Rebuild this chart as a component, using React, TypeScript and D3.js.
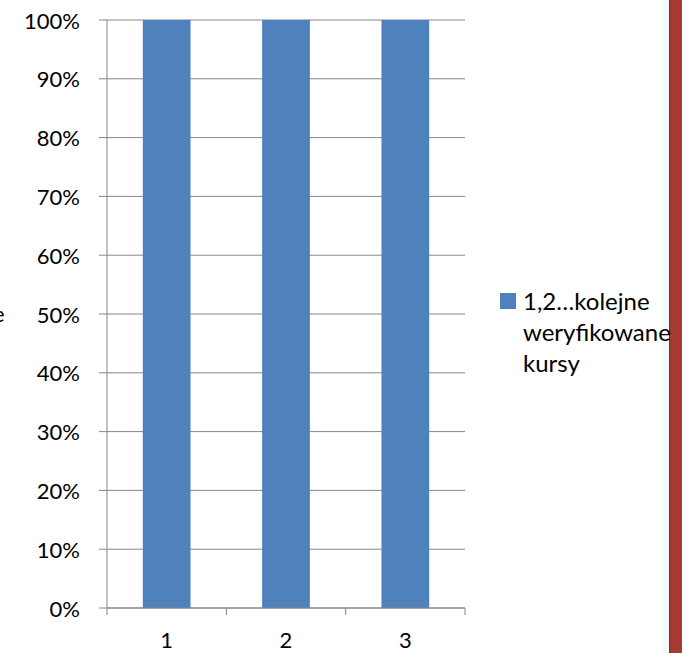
import React from "react";
import * as d3 from "d3";

const categories = ["1", "2", "3"];
const values = [1, 1, 1];
const yTicks = [0, 0.1, 0.2, 0.3, 0.4, 0.5, 0.6, 0.7, 0.8, 0.9, 1];
const legendLines = ["1,2…kolejne", "weryfikowane", "kursy"];

const W = 682;
const H = 653;
const plot = { left: 107, right: 465, top: 20, bottom: 608 };
const FONT = "Lato, 'Open Sans', sans-serif";

export default function App() {
  const x = d3
    .scaleBand<string>()
    .domain(categories)
    .range([plot.left, plot.right])
    .paddingInner(0.6)
    .paddingOuter(0.3);
  const xb = d3.scaleBand<string>().domain(categories).range([plot.left, plot.right]);
  const y = d3.scaleLinear().domain([0, 1]).range([plot.bottom, plot.top]);
  const fmt = d3.format(".0%");
  const grid = "#878787";

  return (
    <svg
      width={W}
      height={H}
      style={{ position: "absolute", left: 0, top: 0, background: "#fff" }}
      fontFamily={FONT}
    >
      <rect x={0} y={0} width={W} height={H} fill="#fff" />
      {/* right decorative strip */}
      <rect x={663} y={0} width={6} height={H} fill="#f4f8fb" />
      <rect x={669} y={0} width={13} height={H} fill="#a63b33" />
      <rect x={669} y={0} width={1.5} height={H} fill="#8e3029" />

      {/* gridlines */}
      {yTicks.map((t) => (
        <line
          key={"g" + t}
          x1={plot.left - 8}
          x2={plot.right}
          y1={y(t)}
          y2={y(t)}
          stroke={grid}
          strokeWidth={1}
        />
      ))}
      {/* y axis */}
      <line x1={plot.left} x2={plot.left} y1={plot.top} y2={plot.bottom} stroke={grid} />
      {yTicks.map((t) => (
        <text
          key={"yl" + t}
          x={80}
          y={y(t)}
          textAnchor="end"
          dominantBaseline="central"
          fontSize={22}
          fill="#000"
        >
          {fmt(t)}
        </text>
      ))}

      {/* bars */}
      {categories.map((c, i) => (
        <rect
          key={"b" + c}
          x={x(c)}
          y={y(values[i])}
          width={x.bandwidth()}
          height={y(0) - y(values[i])}
          fill="#4f81bd"
        />
      ))}

      {/* x axis */}
      <line x1={plot.left} x2={plot.right} y1={plot.bottom} y2={plot.bottom} stroke={grid} />
      {[...categories.map((c) => xb(c)!), plot.right].map((px, i) => (
        <line key={"xt" + i} x1={px} x2={px} y1={plot.bottom} y2={plot.bottom + 7} stroke={grid} />
      ))}
      {categories.map((c) => (
        <text
          key={"xl" + c}
          x={xb(c)! + xb.bandwidth() / 2}
          y={648}
          textAnchor="middle"
          fontSize={22}
          fill="#000"
        >
          {c}
        </text>
      ))}

      {/* cut-off axis title fragment (clipped at the left edge, as in the reference) */}
      <text x={-7} y={322} fontSize={22} fill="#000">e</text>

      {/* legend */}
      <rect x={500} y={293} width={16} height={16} fill="#4f81bd" />
      {legendLines.map((l, i) => (
        <text key={"lg" + i} x={523} y={310 + i * 31} fontSize={24} fill="#000">
          {l}
        </text>
      ))}
    </svg>
  );
}
